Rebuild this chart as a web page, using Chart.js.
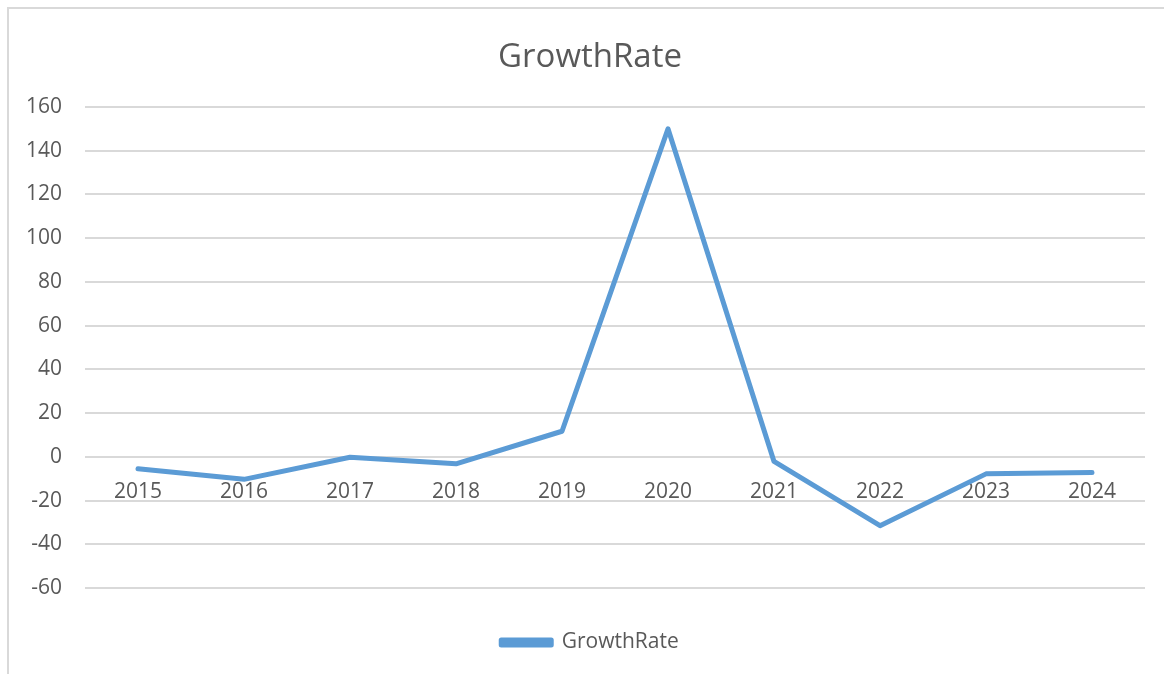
<!DOCTYPE html>
<html>
<head>
<meta charset="utf-8">
<script src="https://cdn.jsdelivr.net/npm/chart.js@4"></script>
<style>
  body { margin: 0; background: #fff; }
  #wrap { position: relative; width: 1164px; height: 674px; overflow: hidden; }
  #frame { position: absolute; left: 7px; top: 7px; width: 1200px; height: 700px;
           border-top: 2px solid #d9d9d9; border-left: 2px solid #d9d9d9; }
  #growthChart { position: absolute; left: 0; top: 0; }
</style>
</head>
<body>
<div id="wrap">
  <div id="frame"></div>
  <canvas id="growthChart" width="1180" height="674"></canvas>
</div>
<script>
// datos
const years = ['2015', '2016', '2017', '2018', '2019', '2020', '2021', '2022', '2023', '2024'];
const growthRate = [-5.5, -10.3, -0.2, -3.2, 11.7, 150, -2.1, -31.5, -7.8, -7.2];
const yTicks = [-60, -40, -20, 0, 20, 40, 60, 80, 100, 120, 140, 160];

const textColor = '#595959';
const gridColor = '#d9d9d9';
const lineColor = '#5b9bd5';
const fontFamily = '"Open Sans", sans-serif';

const ctx = document.getElementById('growthChart').getContext('2d');
const chart = new Chart(ctx, {
    type: 'line',
    data: {
        labels: years,
        datasets: [{
            label: 'GrowthRate',
            data: growthRate,
            yAxisID: 'y',
            borderColor: lineColor,
            backgroundColor: lineColor,
            borderWidth: 5,
            borderJoinStyle: 'round',
            borderCapStyle: 'round',
            pointRadius: 0,
            fill: false,
            tension: 0
        }]
    },
    options: {
        responsive: false,
        animation: false,
        layout: {
            padding: { top: 0, left: 0, right: 0, bottom: 11 }
        },
        plugins: {
            title: {
                display: true,
                text: 'GrowthRate',
                color: textColor,
                font: { family: fontFamily, size: 33, weight: 'normal' },
                padding: { top: 38, bottom: 29.4 }
            },
            legend: {
                position: 'bottom',
                labels: {
                    color: textColor,
                    font: { family: fontFamily, size: 21 },
                    boxWidth: 50,
                    boxHeight: 5,
                    padding: 44
                }
            },
            tooltip: { enabled: false }
        },
        scales: {
            x: {
                position: { y: 0 },
                offset: true,
                grid: { display: false, drawTicks: false },
                border: { display: false },
                ticks: {
                    color: textColor,
                    font: { family: fontFamily, size: 21 },
                    padding: 23,
                    maxRotation: 0
                }
            },
            y: {
                position: 'left',
                min: -60,
                max: 160,
                afterBuildTicks: (scale) => {
                    scale.ticks = yTicks.map(v => ({ value: v }));
                },
                afterFit: (scale) => { scale.width = 85; },
                grid: { color: gridColor, lineWidth: 2, drawTicks: false },
                border: { display: false },
                ticks: {
                    color: textColor,
                    font: { family: fontFamily, size: 21 },
                    padding: 23
                }
            },
            // eje vacio a la derecha, solo para dejar margen
            yRight: {
                position: 'right',
                grid: { display: false, drawTicks: false },
                border: { display: false },
                ticks: { display: false },
                afterFit: (scale) => { scale.width = 35; }
            }
        }
    }
});
</script>
</body>
</html>
